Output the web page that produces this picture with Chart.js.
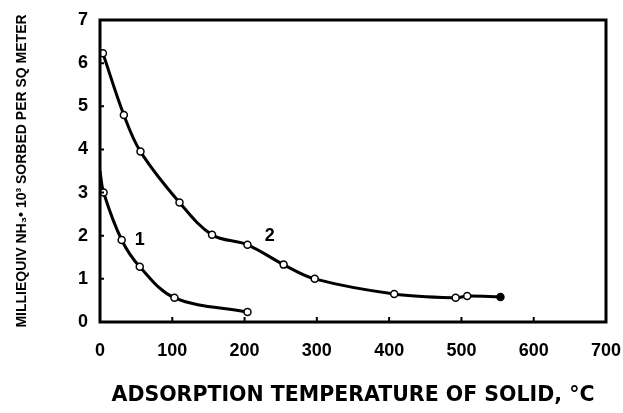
<!DOCTYPE html>
<html lang="en">
<head>
  <meta charset="UTF-8">
  <title>NH3 sorbed vs adsorption temperature</title>
  <script src="https://cdn.jsdelivr.net/npm/chart.js"></script>
  <style>
    html, body { margin: 0; padding: 0; background: #fff; }
    #wrap { width: 623px; height: 413px; }
  </style>
</head>
<body>
  <div id="wrap"><canvas id="grafico" width="623" height="413"></canvas></div>

  <script>
    // curve 1
    const temp1 = [0, 5, 30, 55, 103, 204];
    const sorb1 = [3.5, 3.0, 1.9, 1.28, 0.56, 0.23];
    // curve 2
    const temp2 = [4, 33, 56, 110, 155, 204, 254, 297, 407, 492, 508, 554];
    const sorb2 = [6.23, 4.8, 3.95, 2.77, 2.02, 1.79, 1.33, 1.0, 0.65, 0.56, 0.6, 0.58];

    const xTicks = [0, 100, 200, 300, 400, 500, 600, 700];
    const yTicks = [0, 1, 2, 3, 4, 5, 6, 7];

    // curve numbers written next to the lines
    const curveLabels = ["1", "2"];
    const labelX = [48, 228];
    const labelY = [1.9, 2.0];

    const pts = (xs, ys) => xs.map((x, i) => ({ x: x, y: ys[i] }));

    const lastFilled = sorb2.map((v, i) => i === sorb2.length - 1 ? "#000" : "#fff");

    // box round the plot, small inward ticks, curve numbers
    const frame = {
      id: "frame",
      afterDraw(chart) {
        const c = chart.ctx, a = chart.chartArea;
        const xs = chart.scales.x, ys = chart.scales.y;
        c.save();
        c.strokeStyle = "#000";
        c.lineWidth = 3;
        c.strokeRect(a.left, a.top, a.right - a.left, a.bottom - a.top);
        c.lineWidth = 2;
        c.beginPath();
        xTicks.slice(1, -1).forEach(v => {
          const px = xs.getPixelForValue(v);
          c.moveTo(px, a.bottom);
          c.lineTo(px, a.bottom - 5);
        });
        yTicks.slice(1, -1).forEach(v => {
          const py = ys.getPixelForValue(v);
          c.moveTo(a.left, py);
          c.lineTo(a.left + 4, py);
        });
        c.stroke();
        c.fillStyle = "#000";
        c.font = "bold 18px 'Liberation Sans'";
        c.textAlign = "left";
        c.textBaseline = "middle";
        curveLabels.forEach((t, i) => {
          c.fillText(t, xs.getPixelForValue(labelX[i]), ys.getPixelForValue(labelY[i]));
        });
        c.restore();
      }
    };

    const ctx = document.getElementById("grafico").getContext("2d");
    new Chart(ctx, {
      type: "line",
      data: {
        datasets: [
          {
            label: "1",
            data: pts(temp1, sorb1),
            borderColor: "#000",
            borderWidth: 3,
            pointRadius: [0, 3.5, 3.5, 3.5, 3.5, 3.5],
            pointBackgroundColor: "#fff",
            pointBorderColor: "#000",
            pointBorderWidth: 1.5,
            tension: 0.35,
            fill: false
          },
          {
            label: "2",
            data: pts(temp2, sorb2),
            borderColor: "#000",
            borderWidth: 3,
            pointRadius: 3.5,
            pointBackgroundColor: lastFilled,
            pointBorderColor: "#000",
            pointBorderWidth: 1.5,
            tension: 0.35,
            fill: false
          }
        ]
      },
      options: {
        responsive: false,
        animation: false,
        layout: { padding: { top: 20, right: 17, left: 0, bottom: 0 } },
        plugins: {
          legend: { display: false },
          tooltip: { enabled: false }
        },
        scales: {
          x: {
            type: "linear",
            min: 0,
            max: 700,
            afterBuildTicks: s => { s.ticks = xTicks.map(v => ({ value: v })); },
            grid: { display: false },
            border: { display: false },
            ticks: {
              color: "#000",
              padding: 10,
              font: { family: "'Liberation Sans'", size: 18, weight: "bold" }
            },
            title: {
              display: true,
              text: "ADSORPTION TEMPERATURE OF SOLID, °C",
              color: "#000",
              padding: { top: 0, bottom: 5 },
              font: { family: "'DejaVu Sans'", size: 20.5, weight: "bold" }
            },
            afterFit: s => { s.height = 91; s.paddingRight = 0; s.paddingLeft = 0; }
          },
          y: {
            min: 0,
            max: 7,
            afterBuildTicks: s => { s.ticks = yTicks.map(v => ({ value: v })); },
            grid: { display: false },
            border: { display: false },
            ticks: {
              color: "#000",
              padding: 4,
              font: { family: "'Liberation Sans'", size: 18, weight: "bold" }
            },
            title: {
              display: true,
              text: "MILLIEQUIV NH\u2083\u2022 10\u00b3 SORBED PER SQ METER",
              color: "#000",
              padding: { top: 14, bottom: 0 },
              font: { family: "'Liberation Sans'", size: 14, weight: "bold" }
            },
            afterFit: s => { s.width = 100; s.paddingTop = 0; s.paddingBottom = 0; }
          }
        }
      },
      plugins: [frame]
    });
  </script>
</body>
</html>
